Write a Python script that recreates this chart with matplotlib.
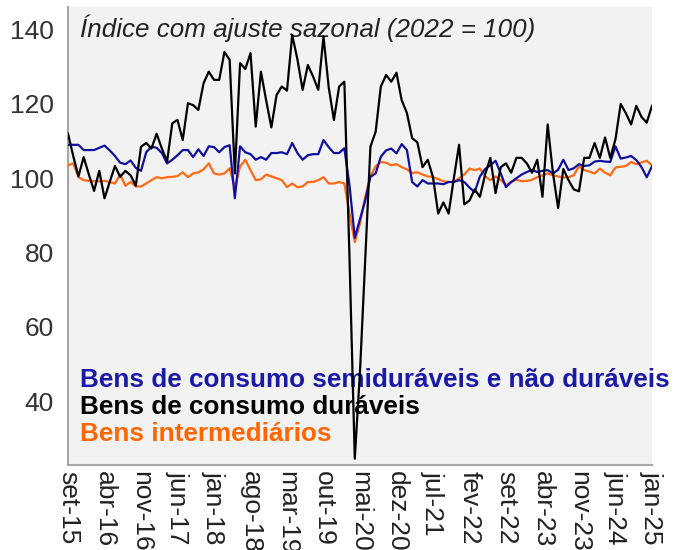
import matplotlib
matplotlib.use("Agg")
import matplotlib.pyplot as plt
import numpy as np

plt.rcParams["font.family"] = ["Liberation Sans", "DejaVu Sans"]

# monthly index, set-15 .. jan-25 (2022 = 100)
tick_labels = ["set-15", "abr-16", "nov-16", "jun-17", "jan-18", "ago-18", "mar-19",
               "out-19", "mai-20", "dez-20", "jul-21", "fev-22", "set-22", "abr-23",
               "nov-23", "jun-24", "jan-25"]

duraveis = [
    112, 106, 100.5, 105.7, 101, 96.6, 102, 94.6, 99, 103.3,
    100.4, 102, 100.8, 98, 108.5, 109.5, 108, 112, 108, 104.5,
    114.8, 115.7, 110.3, 120.2, 119.7, 118.4, 125.6, 128.7, 126.5, 126.5,
    134, 131.9, 101.3, 131, 129.4, 133.7, 113.9, 128.7, 121, 113.7,
    122.4, 124.7, 123.6, 138.6, 132, 123.8, 130.5, 127.4, 123.8, 138.2,
    124.5, 115.7, 124.7, 126, 78, 24.5, 48, 78, 108.5, 112.5,
    124.7, 127.8, 126, 128.4, 121, 117.6, 110.8, 109.7, 103, 105,
    100.3, 90.5, 93.5, 90.5, 100, 109, 93, 94, 97, 95,
    101, 105.5, 96, 103, 104, 101.5, 105.5, 105.5, 104, 101.5,
    105, 95, 114.5, 101.5, 92, 102.5, 99.5, 97, 96.5, 105.5,
    105.5, 109.5, 105.5, 111, 105.5, 110.5, 120, 117.5, 114.5, 119.5,
    116.5, 115, 119.5,
]

semi_nao_duraveis = [
    109, 109, 109, 107.6, 107.6, 107.6, 108.2, 108.8, 107.5, 106,
    104.2, 103.8, 104.8, 102.8, 102, 107, 108.5, 108.2, 106.8, 104,
    105, 106.2, 107.6, 107.6, 105.7, 107.8, 106, 108.6, 108.4, 107,
    108.4, 108.9, 94.6, 108.6, 107, 106.5, 105, 105.7, 105, 106.8,
    106.8, 107, 106.5, 109.5, 106.8, 105, 106.2, 106.5, 106.5, 110.3,
    108.4, 106.8, 106.8, 108.1, 98, 84, 89, 94, 100.4, 101.3,
    105.8, 107.5, 108, 106.7, 109.2, 107.6, 99, 97.8, 99.5, 98.6,
    98.6, 98.6, 98.4, 99, 99, 99.5, 99, 97.5, 96.3, 100.5,
    102.5, 103.5, 104.7, 101.3, 97.6, 99, 100, 101, 101.7, 102.2,
    101.7, 102, 102.2, 101.3, 102.3, 105, 102.2, 102.7, 103.8, 103.3,
    103.5, 104.5, 104.7, 104.5, 104.4, 108.6, 105.3, 105.6, 106, 104.9,
    103, 100.3, 103.2,
]

intermediarios = [
    103.5, 104, 100.3, 99.5, 99.3, 99.2, 99.2, 99.3, 99, 98.6,
    101, 98, 99, 97.8, 97.8, 98.6, 99.5, 100.3, 100, 100.3,
    100.4, 100.6, 101.6, 100.3, 101.3, 101.6, 102.4, 104, 101.3, 101,
    101.3, 102.7, 97.3, 103.2, 105, 102.2, 99.5, 99.7, 101, 100.5,
    100, 99.5, 97.6, 98.6, 97.6, 97.8, 99, 99, 99.5, 100.3,
    98.6, 98.6, 99, 98.6, 90.4, 82.8, 87.8, 95, 100.5, 103.2,
    104.4, 104.2, 103.5, 103.8, 103, 102.4, 101.4, 101.6, 101, 100.5,
    100.3, 99.8, 99.2, 99, 99, 100, 101, 102.6, 102.2, 102.6,
    100.5, 99.5, 100.5, 99.5, 98.2, 99, 99.6, 99.2, 99.3, 99.6,
    100.3, 100.8, 101.3, 100.8, 100.5, 100.2, 100.3, 100.8, 103.2, 102.2,
    101.8, 101.3, 102.6, 101.5, 100.8, 102.9, 103.1, 103.3, 104.4, 103.8,
    104.3, 104.7, 103.5,
]

x = np.arange(len(duraveis))

fig = plt.figure(figsize=(6.87, 5.5), dpi=100)
ax = fig.add_axes([0.099, 0.1545, 0.85, 0.832])
ax.set_facecolor("#f2f2f2")

ax.plot(x, intermediarios, color="#ff6a13", lw=1.6, zorder=3)
ax.plot(x, semi_nao_duraveis, color="#1010a0", lw=1.6, zorder=4)
ax.plot(x, duraveis, color="#000000", lw=1.6, zorder=5)

ax.set_xlim(0, 112)
ax.set_ylim(22.8, 146)
ax.set_yticks([40, 60, 80, 100, 120, 140])
ax.set_xticks(x[::7])
ax.set_xticklabels(tick_labels, rotation=-90, va="top", ha="center")
ax.tick_params(axis="y", length=0, pad=10, labelsize=19, labelcolor="#333333")
ax.tick_params(axis="x", length=0, pad=4, labelsize=19, labelcolor="#222222")

for s in ["top", "right"]:
    ax.spines[s].set_visible(False)
for s in ["left", "bottom"]:
    ax.spines[s].set_color("#a6a6a6")
    ax.spines[s].set_linewidth(1.5)

ax.text(0.0205, 0.954, "Índice com ajuste sazonal (2022 = 100)", transform=ax.transAxes,
        fontsize=18.7, style="italic", color="#222222", va="center", ha="left", zorder=2)

ax.text(0.0205, 0.1856, "Bens de consumo semiduráveis e não duráveis", transform=ax.transAxes,
        fontsize=18.8, fontweight="bold", color="#1a1aa6", va="center", ha="left", zorder=2,
        clip_on=False)
ax.text(0.0205, 0.1266, "Bens de consumo duráveis", transform=ax.transAxes,
        fontsize=18.8, fontweight="bold", color="#000000", va="center", ha="left", zorder=2)
ax.text(0.0205, 0.0677, "Bens intermediários", transform=ax.transAxes,
        fontsize=18.8, fontweight="bold", color="#ff6600", va="center", ha="left", zorder=2)

fig.savefig("out.png", dpi=100)
